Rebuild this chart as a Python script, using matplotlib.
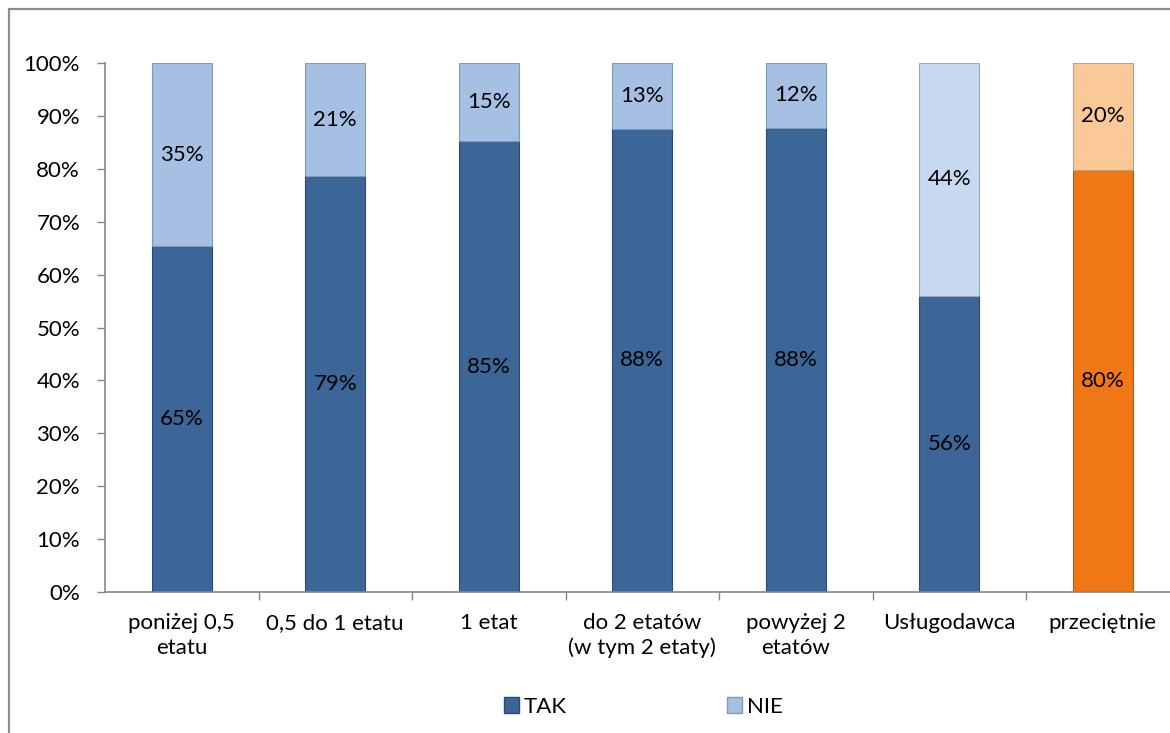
import matplotlib
matplotlib.use("Agg")
import matplotlib.pyplot as plt
from matplotlib.patches import Rectangle, Patch
from matplotlib.ticker import FixedLocator, PercentFormatter

# ----------------------------- data -----------------------------
CATEGORIES = ["poniżej 0,5\netatu", "0,5 do 1 etatu", "1 etat",
              "do 2 etatów\n(w tym 2 etaty)", "powyżej 2\netatów",
              "Usługodawca", "przeciętnie"]
TAK = [65.4, 78.6, 85.2, 87.6, 87.8, 56.0, 79.8]
NIE = [34.6, 21.4, 14.8, 12.4, 12.2, 44.0, 20.2]
TAK_LABELS = ["65%", "79%", "85%", "88%", "88%", "56%", "80%"]
NIE_LABELS = ["35%", "21%", "15%", "13%", "12%", "44%", "20%"]
YTICKS = [0, 10, 20, 30, 40, 50, 60, 70, 80, 90, 100]

TAK_COLORS = ["#3C6598"] * 6 + ["#EF7716"]
NIE_COLORS = ["#A6C0E3"] * 5 + ["#C6D9F0", "#FBC898"]
TAK_EDGE = ["#2B4B73"] * 6 + ["#B85A0E"]
NIE_EDGE = ["#8198B8"] * 5 + ["#97A9C0", "#C99C72"]

plt.rcParams["font.family"] = ["Lato", "DejaVu Sans"]
FS = 16

fig = plt.figure(figsize=(11.7, 7.33), dpi=100)
ax = fig.add_axes([105 / 1170, 141 / 733, 1074.5 / 1170, 529 / 733])

x = list(range(len(CATEGORIES)))
W = 0.39
ax.bar(x, TAK, width=W, color=TAK_COLORS, edgecolor=TAK_EDGE, linewidth=0.8, zorder=2)
ax.bar(x, NIE, bottom=TAK, width=W, color=NIE_COLORS, edgecolor=NIE_EDGE, linewidth=0.8, zorder=2)

for i in x:
    ax.text(i, TAK[i] / 2, TAK_LABELS[i], ha="center", va="center", fontsize=FS, zorder=4)
    ax.text(i, TAK[i] + NIE[i] / 2, NIE_LABELS[i], ha="center", va="center", fontsize=FS, zorder=4)

ax.set_xlim(-0.5, len(CATEGORIES) - 0.5)
ax.set_ylim(0, 100)
ax.yaxis.set_major_locator(FixedLocator(YTICKS))
ax.yaxis.set_major_formatter(PercentFormatter(decimals=0))
ax.set_xticks(x)
ax.set_xticklabels(CATEGORIES, fontsize=FS, linespacing=1.3)
ax.xaxis.set_minor_locator(FixedLocator([i + 0.5 for i in x[:-1]]))
ax.tick_params(axis="x", which="major", length=0, pad=15)
ax.tick_params(axis="x", which="minor", length=6, color="#868686", width=1)
ax.tick_params(axis="y", length=6, color="#868686", width=1, labelsize=FS, pad=12)

for side in ["top", "right"]:
    ax.spines[side].set_visible(False)
for side in ["left", "bottom"]:
    ax.spines[side].set_color("#868686")
    ax.spines[side].set_linewidth(1.2)

handles = [Patch(facecolor="#3C6598", edgecolor="#2B4B73", label="TAK"),
           Patch(facecolor="#A6C0E3", edgecolor="#8198B8", label="NIE")]
fig.legend(handles=handles, loc="center", bbox_to_anchor=(643 / 1170, 1 - 707 / 733),
           ncol=2, frameon=False, fontsize=FS, handlelength=0.7, handleheight=0.7,
           handletextpad=0.2, columnspacing=7.2)

# outer chart border
fig.add_artist(Rectangle((9 / 1170, -0.01), 1.02, 1 - 9 / 733 + 0.01,
                         transform=fig.transFigure, fill=False,
                         edgecolor="#8C8C8C", lw=1.6, clip_on=False))

fig.savefig("out.png", dpi=100)
